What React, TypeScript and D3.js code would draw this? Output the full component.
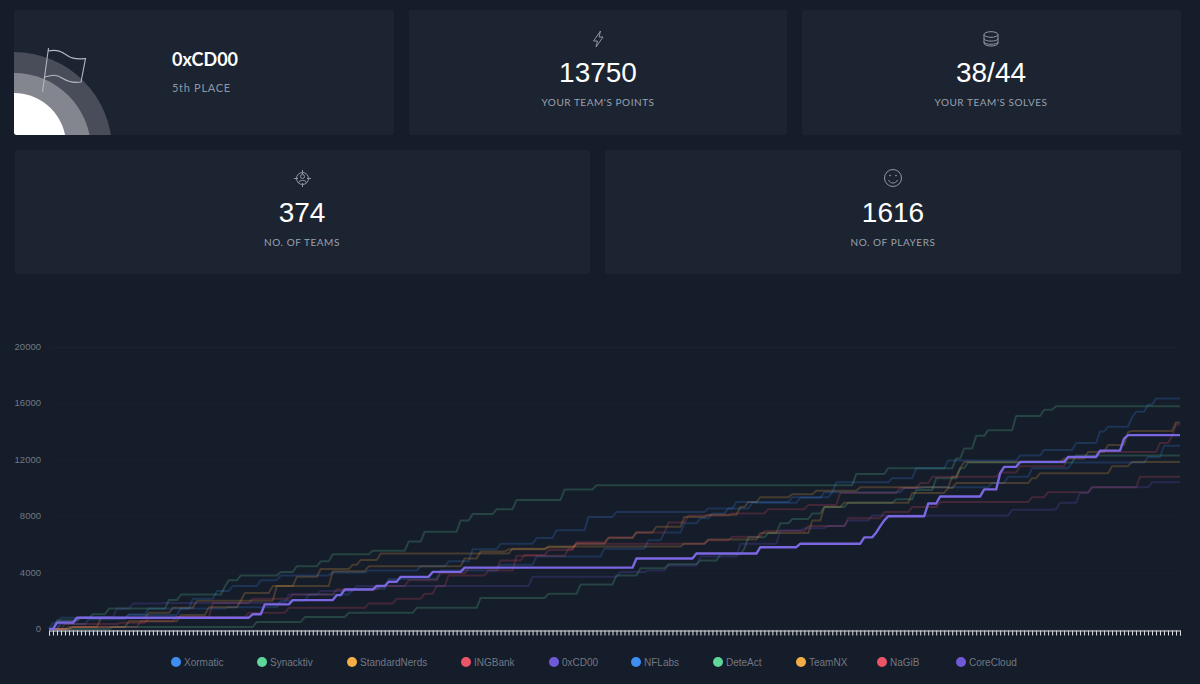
import { useEffect, useRef } from 'react';
import * as d3 from 'd3';

type Step = [number, number];

// x categories: the solve timeline, one tick each
const categories = d3.range(0, 284);
const yTicks = [0, 4000, 8000, 12000, 16000, 20000];
const teams = ['Xormatic', 'Synacktiv', 'StandardNerds', 'INGBank', '0xCD00', 'NFLabs', 'DeteAct', 'TeamNX', 'NaGiB', 'CoreCloud'];
const teamColors = ['#3d8ef0', '#5fd69a', '#f5ae45', '#ea5468', '#7059d6', '#3d8ef0', '#5fd69a', '#f5ae45', '#ea5468', '#7059d6'];
const highlighted = '0xCD00';

// score changes per team: [category, score], the score holds until the next one
const xormatic: Step[] = [[0, 0], [3, 350], [10, 700], [20, 1000], [33, 1450], [45, 1550], [58, 2000], [65, 2450], [76, 2850], [85, 3550], [98, 4150], [113, 4550], [122, 5150], [139, 5700], [150, 6300], [154, 6850], [159, 7500], [163, 7850], [166, 8200], [170, 8550], [176, 8950], [188, 9300], [194, 9700], [214, 10000], [219, 10050], [236, 10350], [240, 10800], [246, 11400], [256, 11800], [275, 12200], [279, 13000]];
const synacktiv: Step[] = [[0, 0], [16, 150], [52, 500], [64, 850], [75, 1150], [92, 1500], [108, 2200], [125, 2500], [133, 3150], [142, 3800], [148, 4300], [155, 4600], [163, 4850], [168, 5300], [174, 5700], [175, 6500], [180, 6800], [183, 7500], [186, 7800], [191, 8200], [194, 8650], [200, 8950], [212, 9200], [217, 9850], [222, 10700], [228, 11400], [230, 11800], [257, 12300]];
const standardNerds: Step[] = [[0, 0], [6, 150], [13, 800], [25, 1150], [31, 1500], [37, 2000], [49, 2550], [56, 3050], [62, 3700], [68, 4250], [76, 4550], [78, 4900], [83, 5350], [116, 5700], [125, 5800], [132, 6050], [140, 6450], [147, 6850], [152, 7250], [159, 7950], [165, 8100], [173, 8650], [175, 9000], [178, 9350], [186, 9550], [192, 9800], [203, 10050], [226, 10800], [228, 11400], [229, 11850], [254, 12100], [260, 12550], [265, 13050], [270, 13950], [271, 14050], [282, 14650]];
const ingBank: Step[] = [[0, 0], [4, 350], [18, 450], [25, 800], [32, 850], [41, 1850], [51, 2150], [61, 2450], [72, 2800], [83, 3050], [90, 3450], [98, 3950], [105, 4300], [113, 4850], [119, 5250], [125, 5600], [132, 6150], [140, 6500], [147, 6850], [155, 7550], [160, 8050], [171, 8200], [180, 8500], [190, 8800], [198, 9650], [213, 10000], [218, 10350], [221, 10800], [238, 11100], [243, 11550], [255, 12200], [263, 12550], [278, 13200], [281, 13650], [282, 14500]];
const cdoo: Step[] = [[0, 0], [2, 450], [7, 800], [51, 1050], [54, 1750], [61, 2050], [72, 2400], [74, 2800], [82, 3050], [85, 3350], [88, 3700], [96, 4050], [104, 4350], [147, 5000], [162, 5350], [178, 5800], [188, 6050], [204, 6500], [207, 6850], [208, 7300], [209, 7700], [210, 8000], [220, 8900], [223, 9400], [234, 9900], [238, 11050], [239, 11500], [243, 11850], [255, 12200], [263, 12650], [269, 13500], [270, 13750]];
const nfLabs: Step[] = [[0, 0], [1, 450], [3, 800], [20, 1050], [25, 1450], [36, 2150], [42, 2700], [46, 3050], [53, 3450], [58, 3800], [71, 4000], [80, 4150], [93, 4450], [100, 4800], [106, 5650], [113, 6050], [122, 6450], [127, 7000], [135, 7950], [142, 8300], [165, 8550], [172, 9000], [186, 9350], [196, 9700], [197, 10400], [211, 10700], [217, 11400], [225, 11950], [243, 12300], [249, 12700], [257, 13200], [263, 14000], [265, 14350], [271, 15000], [272, 15400], [275, 15900], [277, 16350]];
const deteAct: Step[] = [[0, 0], [2, 600], [8, 800], [11, 1050], [15, 1450], [30, 2050], [33, 2450], [44, 3000], [45, 3450], [48, 3800], [58, 4050], [62, 4450], [68, 4800], [71, 5300], [81, 5550], [90, 6200], [94, 6900], [103, 7700], [106, 8150], [112, 8500], [117, 9150], [129, 9900], [137, 10200], [202, 11000], [210, 11400], [227, 12100], [229, 12800], [232, 13700], [235, 14100], [242, 15100], [249, 15550], [252, 15800]];
const teamNx: Step[] = [[0, 0], [5, 150], [20, 550], [33, 1000], [40, 1550], [48, 2000], [57, 3050], [71, 4100], [80, 4450], [104, 5000], [108, 5500], [115, 5650], [125, 5850], [159, 6050], [165, 6350], [178, 6800], [191, 7700], [194, 8650], [199, 8950], [216, 9650], [225, 10000], [227, 10350], [246, 10700], [248, 11050], [266, 11550], [271, 11850]];
const naGiB: Step[] = [[0, 0], [6, 150], [23, 550], [32, 850], [50, 1150], [60, 1500], [80, 1800], [87, 2150], [94, 2500], [97, 3050], [100, 3800], [110, 4150], [117, 5200], [130, 5700], [132, 6050], [165, 6300], [171, 6550], [179, 6950], [190, 7300], [200, 7850], [209, 8300], [216, 8650], [223, 9000], [246, 9350], [250, 9700], [261, 10050], [273, 10800]];
const coreCloud: Step[] = [[0, 0], [3, 550], [8, 850], [17, 1450], [21, 1800], [29, 1850], [60, 2450], [68, 2700], [77, 3050], [121, 3700], [143, 4050], [150, 4150], [155, 4500], [163, 5150], [173, 6050], [183, 7000], [189, 7150], [195, 7300], [200, 7700], [206, 8050], [241, 8450], [252, 8500], [253, 8950], [258, 9650], [261, 10050], [276, 10400]];

const seriesByTeam: Record<string, Step[]> = {
  Xormatic: xormatic,
  Synacktiv: synacktiv,
  StandardNerds: standardNerds,
  INGBank: ingBank,
  '0xCD00': cdoo,
  NFLabs: nfLabs,
  DeteAct: deteAct,
  TeamNX: teamNx,
  NaGiB: naGiB,
  CoreCloud: coreCloud,
};

const legendX = [176, 262, 352, 466, 554, 636, 718, 801, 882, 961];

const width = 1200;
const height = 684;
const margin = { left: 49, right: 20, top: 347, bottom: 55 };
const bg = '#151c2a';
const cardFill = '#1c2431';
const cards = [
  { x: 14, y: 10, w: 380, h: 125 },
  { x: 409, y: 10, w: 378, h: 125 },
  { x: 802, y: 10, w: 379, h: 125 },
  { x: 15, y: 150, w: 575, h: 124 },
  { x: 605, y: 150, w: 576, h: 124 },
];
const stats = [
  { cx: 598, top: 0, value: '13750', label: "YOUR TEAM'S POINTS" },
  { cx: 991, top: 0, value: '38/44', label: "YOUR TEAM'S SOLVES" },
  { cx: 302, top: 140, value: '374', label: 'NO. OF TEAMS' },
  { cx: 893, top: 140, value: '1616', label: 'NO. OF PLAYERS' },
];
// rings of the medal: radius and how far the centre sits below the card
const rings = [
  { r: 98, drop: 15, fill: '#484d59' },
  { r: 77, drop: 15, fill: '#83868e' },
  { r: 52, drop: 10, fill: '#ffffff' },
];

// carry each score forward so every category has a value
function expand(steps: Step[]) {
  const last = d3.max(steps, (d) => d[0]) ?? 0;
  const end = Math.max(last, categories.length - 1);
  const out: Step[] = [];
  let s = 0;
  for (let c = 0; c <= end; c++) {
    while (s + 1 < steps.length && steps[s + 1][0] <= c) s++;
    out.push([c, steps[s][1]]);
  }
  return out;
}

export default function App() {
  const svgRef = useRef<SVGSVGElement | null>(null);

  useEffect(() => {
    if (!svgRef.current) return;
    const svg = d3.select(svgRef.current);
    svg.selectAll('*').remove();

    svg.append('rect').attr('width', width).attr('height', height).attr('fill', bg);

    // cards
    svg.selectAll('rect.card')
      .data(cards)
      .join('rect')
      .attr('class', 'card')
      .attr('x', (d) => d.x)
      .attr('y', (d) => d.y)
      .attr('width', (d) => d.w)
      .attr('height', (d) => d.h)
      .attr('rx', 2)
      .attr('fill', cardFill);

    // medal in the corner of the first card
    svg.append('clipPath').attr('id', 'card-clip')
      .append('rect')
      .attr('x', cards[0].x)
      .attr('y', cards[0].y)
      .attr('width', cards[0].w)
      .attr('height', cards[0].h)
      .attr('rx', 3);
    svg.append('g')
      .attr('clip-path', 'url(#card-clip)')
      .selectAll('circle')
      .data(rings)
      .join('circle')
      .attr('cx', cards[0].x)
      .attr('cy', (d) => cards[0].y + cards[0].h + d.drop)
      .attr('r', (d) => d.r)
      .attr('fill', (d) => d.fill);
    svg.append('path')
      .attr('d', 'M42.5 92 L48.5 48 M48 51 C58 49 62 52 68 56 C74 60 80 59 85.5 58.5 L81 82 C74 83 68 82 62 78 C56 74 52 75 45 77')
      .attr('fill', 'none')
      .attr('stroke', '#b4b8c1')
      .attr('stroke-width', 1.1);

    svg.append('text').attr('x', 172).attr('y', 66).attr('fill', '#ffffff')
      .attr('font-family', 'Lato').attr('font-weight', 700).attr('font-size', 18).text('0xCD00');
    svg.append('text').attr('x', 172).attr('y', 92).attr('fill', '#8f96a6')
      .attr('font-family', 'Lato').attr('font-size', 11).attr('letter-spacing', 0.7).text('5th PLACE');

    // stat blocks
    stats.forEach((s) => {
      svg.append('text').attr('x', s.cx).attr('y', s.top + 82).attr('text-anchor', 'middle')
        .attr('fill', '#ffffff').attr('font-family', 'Liberation Sans').attr('font-size', 28).text(s.value);
      svg.append('text').attr('x', s.cx).attr('y', s.top + 106).attr('text-anchor', 'middle')
        .attr('fill', '#9aa1b0').attr('font-family', 'Lato').attr('font-size', 10).attr('letter-spacing', 0.55).text(s.label);
    });

    // icons
    const icon = svg.append('g').attr('fill', 'none').attr('stroke', '#8f96a6').attr('stroke-width', 1);
    icon.append('path').attr('d', 'M600.5 31 L593.5 41 L597.5 41 L596 47 L603 37 L599 37 Z');
    icon.append('ellipse').attr('cx', 991).attr('cy', 34.5).attr('rx', 7).attr('ry', 2.8);
    icon.append('path').attr('d', 'M984 34.5 V43 C984 47 998 47 998 43 V34.5 M984 38.5 C984 42 998 42 998 38.5 M984 42 C984 45 998 45 998 42');
    icon.append('circle').attr('cx', 302.5).attr('cy', 178.5).attr('r', 6);
    icon.append('circle').attr('cx', 302.5).attr('cy', 176.5).attr('r', 2);
    icon.append('path').attr('d', 'M298.5 183 C299 179.5 306 179.5 306.5 183 M302.5 170 V174 M302.5 183 V187 M294 178.5 H298 M307 178.5 H311');
    icon.append('circle').attr('cx', 893).attr('cy', 178).attr('r', 8.5);
    icon.append('path').attr('d', 'M888.5 180 C890 184 896 184 897.5 180');
    icon.append('circle').attr('cx', 890).attr('cy', 175.5).attr('r', 0.5);
    icon.append('circle').attr('cx', 896).attr('cy', 175.5).attr('r', 0.5);

    // scales
    const x = d3.scalePoint<number>()
      .domain(categories)
      .range([margin.left, width - margin.right]);
    const y = d3.scaleLinear()
      .domain([0, 20000])
      .range([height - margin.bottom, margin.top]);

    // grid, very faint on the dark background
    svg.append('g')
      .selectAll('line')
      .data(yTicks)
      .join('line')
      .attr('x1', margin.left)
      .attr('x2', width - margin.right)
      .attr('y1', (d) => y(d) + 0.5)
      .attr('y2', (d) => y(d) + 0.5)
      .attr('stroke', '#1a2130');

    svg.append('g')
      .attr('font-family', 'Liberation Sans')
      .attr('font-size', 9.5)
      .attr('fill', '#737883')
      .selectAll('text')
      .data(yTicks)
      .join('text')
      .attr('x', 41)
      .attr('y', (d) => y(d) + 3)
      .attr('text-anchor', 'end')
      .text((d) => d);

    const xAxis = svg.append('g')
      .attr('transform', `translate(0,${height - margin.bottom + 1.5})`)
      .call(d3.axisBottom(x).tickSize(5).tickFormat(() => ''));
    xAxis.selectAll('path').attr('stroke', '#e4e6e8');
    xAxis.selectAll('line').attr('stroke', '#dcdee1');

    // lines, the team's own one on top at full strength
    const line = d3.line<Step>()
      .x((d) => x(d[0]) as number)
      .y((d) => y(d[1]));

    const order = teams.filter((t) => t !== highlighted).concat(highlighted);
    svg.append('g')
      .selectAll('path')
      .data(order)
      .join('path')
      .attr('d', (t) => line(expand(seriesByTeam[t])))
      .attr('fill', 'none')
      .attr('stroke', (t) => (t === highlighted ? '#7c67e2' : teamColors[teams.indexOf(t)]))
      .attr('stroke-width', (t) => (t === highlighted ? 2.4 : 2))
      .attr('stroke-opacity', (t) => (t === highlighted ? 1 : 0.22))
      .attr('stroke-linejoin', 'round');

    // legend
    const legend = svg.append('g')
      .selectAll('g')
      .data(teams)
      .join('g')
      .attr('transform', (_, i) => `translate(${legendX[i]},662)`);
    legend.append('circle').attr('r', 5).attr('fill', (_, i) => teamColors[i]);
    legend.append('text')
      .attr('x', 8)
      .attr('y', 3.5)
      .attr('font-family', 'Liberation Sans')
      .attr('font-size', 10)
      .attr('fill', '#737883')
      .text((d) => d);
  }, []);

  return (
    <svg
      ref={svgRef}
      width={width}
      height={height}
      style={{ position: 'absolute', left: 0, top: 0, display: 'block' }}
    />
  );
}
